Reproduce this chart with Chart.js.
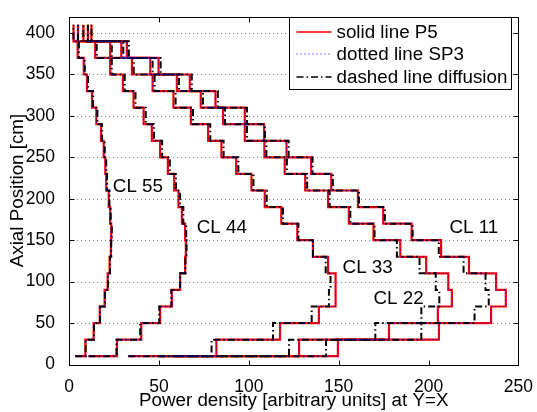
<!DOCTYPE html>
<html>
<head>
<meta charset="utf-8">
<script src="https://cdn.jsdelivr.net/npm/chart.js@4.4.0/dist/chart.umd.min.js"></script>
<style>
  html, body { margin: 0; padding: 0; background: #fff; }
  canvas { display: block; }
</style>
</head>
<body>
<canvas id="power-chart" width="537" height="412"></canvas>
<script>
// axial node heights [cm]; each value below is the power on the layer that ends at that node
var axialNodes = [10, 30, 50, 70, 90, 110, 130, 150, 170, 190, 210, 230, 250, 270, 290, 310, 330, 350, 370, 390, 410];

var xTickValues = [0, 50, 100, 150, 200, 250];
var yTickValues = [0, 50, 100, 150, 200, 250, 300, 350, 400];

var curveNames = ['CL 11', 'CL 22', 'CL 33', 'CL 44', 'CL 55'];
var methodNames = ['solid line P5', 'dotted line SP3', 'dashed line diffusion'];

// P5
var p5CL11 = [60, 149.6, 205.8, 234.8, 243, 237.6, 222.5, 207, 190.6, 174.8, 160.7, 145.9, 134.7, 121, 108.5, 97.8, 81.5, 67.2, 49.8, 32.2, 12.5];
var p5CL22 = [50, 128, 178, 205.2, 213, 211, 198.7, 184.3, 169.4, 155.7, 144.1, 131.4, 120, 108.7, 97.8, 85.7, 73.3, 60, 45.2, 29.1, 10.5];
var p5CL33 = [33, 82, 117.4, 139, 148.3, 148.3, 144.1, 135.7, 127, 118.1, 108.9, 101.5, 93, 84.8, 77.4, 67.8, 58.1, 46.5, 35, 22.9, 8];
var p5CL44 = [10.9, 26.7, 40.2, 50.7, 57.2, 61.8, 64.6, 65, 64.6, 62.8, 60.9, 58.5, 55, 50.7, 46.1, 41.5, 35.9, 30, 22.9, 14.6, 5];
var p5CL55 = [3.5, 9.1, 13.7, 17.1, 19.8, 21.5, 22.6, 23.3, 23.5, 22.9, 22.1, 20.7, 20.2, 19.3, 17.8, 15.2, 12.8, 10, 8.2, 4.8, 2.5];

// SP3
var sp3CL11 = [60, 149.6, 205.8, 234.8, 243, 237.6, 222.5, 207, 190.6, 174.8, 160.7, 145.9, 134.7, 121, 108.5, 97.8, 81.5, 67.2, 49.8, 32.2, 12.5];
var sp3CL22 = [50, 128, 178, 205.2, 213, 211, 198.7, 184.3, 169.4, 155.7, 144.1, 131.4, 120, 108.7, 97.8, 85.7, 73.3, 60, 45.2, 29.1, 10.5];
var sp3CL33 = [33, 82, 117.4, 139, 148.3, 148.3, 144.1, 135.7, 127, 118.1, 108.9, 101.5, 93, 84.8, 77.4, 67.8, 58.1, 46.5, 35, 22.9, 8];
var sp3CL44 = [10.9, 26.7, 40.2, 50.7, 57.2, 61.8, 64.6, 65, 64.6, 62.8, 60.9, 58.5, 55, 50.7, 46.1, 41.5, 35.9, 30, 22.9, 14.6, 5];
var sp3CL55 = [3.5, 9.1, 13.7, 17.1, 19.8, 21.5, 22.6, 23.3, 23.5, 22.9, 22.1, 20.7, 20.2, 19.3, 17.8, 15.2, 12.8, 10, 8.2, 4.8, 2.5];

// diffusion
var difCL11 = [60, 143, 196, 225.6, 233.5, 231.7, 219.5, 205.7, 191.2, 175.7, 161.3, 146.8, 135.5, 122.2, 109, 99, 82.8, 68.3, 51, 33.3, 12.5];
var difCL22 = [50, 122.4, 170.4, 196, 206, 204, 195, 182.4, 170, 156.5, 145, 132.5, 121.2, 109.8, 99, 86.8, 74.5, 61.2, 46.5, 30.2, 10.5];
var difCL33 = [33, 79.3, 113.5, 135, 144.6, 145.5, 142.8, 135.7, 127.6, 119, 110, 102.6, 94.2, 86, 78.6, 69, 59.3, 47.6, 36, 23.8, 8];
var difCL44 = [10.9, 26.4, 39.6, 50.2, 56.9, 61.8, 64.8, 65.4, 65.2, 63.6, 61.8, 59.5, 56.1, 51.8, 47.3, 42.7, 37, 31, 23.8, 15.4, 5];
var difCL55 = [3.5, 9.3, 13.9, 17.3, 20, 21.7, 22.8, 23.5, 23.8, 23.2, 22.5, 21.2, 20.7, 19.9, 18.4, 15.8, 13.4, 10.6, 8.8, 5.5, 2.5];

var FONT = '"Liberation Sans", Arial, Helvetica, sans-serif';

var methods = [
    { name: methodNames[0], curves: [p5CL11, p5CL22, p5CL33, p5CL44, p5CL55], color: '#ff0000', width: 2.2, dash: [], order: 3, legendWidth: 1.5 },
    { name: methodNames[1], curves: [sp3CL11, sp3CL22, sp3CL33, sp3CL44, sp3CL55], color: '#0000ff', width: 1, dash: [1, 3], order: 1, legendWidth: 1 },
    { name: methodNames[2], curves: [difCL11, difCL22, difCL33, difCL44, difCL55], color: '#000000', width: 2, dash: [7, 3, 1.5, 3], order: 2, legendWidth: 1.5 }
];

var datasets = [];
methods.forEach(function(m) {
    m.curves.forEach(function(values, c) {
        datasets.push({
            label: m.name + ' ' + curveNames[c],
            data: axialNodes.map(function(h, i) { return { x: values[i], y: h }; }),
            borderColor: m.color,
            borderWidth: m.width,
            borderDash: m.dash,
            stepped: 'before',
            pointRadius: 0,
            fill: false,
            order: m.order
        });
    });
});

// where the curve names sit, in data units (left edge, middle of text)
var curveLabelAnchors = {
    'CL 11': [211.7, 165],
    'CL 22': [169.4, 79],
    'CL 33': [152.2, 117],
    'CL 44': [71.1, 165],
    'CL 55': [24.4, 215]
};

var axesBox = {
    id: 'axesBox',
    beforeDatasetsDraw: function(chart) {
        // dotted horizontal grid
        var ctx = chart.ctx, a = chart.chartArea, ys = chart.scales.y;
        ctx.save();
        ctx.strokeStyle = '#808080';
        ctx.lineWidth = 1;
        ctx.setLineDash([1, 3]);
        yTickValues.forEach(function(v) {
            if (v === 0) return;
            var py = Math.round(ys.getPixelForValue(v)) + 0.5;
            ctx.beginPath();
            ctx.moveTo(a.left, py);
            ctx.lineTo(a.right, py);
            ctx.stroke();
        });
        ctx.restore();
    },
    afterDraw: function(chart) {
        var ctx = chart.ctx, a = chart.chartArea;
        var xs = chart.scales.x, ys = chart.scales.y;
        ctx.save();

        // box and inward ticks on all four sides
        ctx.strokeStyle = '#000';
        ctx.lineWidth = 1;
        ctx.setLineDash([]);
        var L = Math.round(a.left) + 0.5, R = Math.round(a.right) + 0.5;
        var T = Math.round(a.top) + 0.5, B = Math.round(a.bottom) + 0.5;
        ctx.strokeRect(L, T, R - L, B - T);
        var tl = 5;
        ctx.beginPath();
        xTickValues.forEach(function(v) {
            var px = Math.round(xs.getPixelForValue(v)) + 0.5;
            ctx.moveTo(px, B); ctx.lineTo(px, B - tl);
            ctx.moveTo(px, T); ctx.lineTo(px, T + tl);
        });
        yTickValues.forEach(function(v) {
            var py = Math.round(ys.getPixelForValue(v)) + 0.5;
            ctx.moveTo(L, py); ctx.lineTo(L + tl, py);
            ctx.moveTo(R, py); ctx.lineTo(R - tl, py);
        });
        ctx.stroke();

        // curve names
        ctx.fillStyle = '#000';
        ctx.font = '18.8px ' + FONT;
        ctx.textAlign = 'left';
        ctx.textBaseline = 'middle';
        curveNames.forEach(function(n) {
            var p = curveLabelAnchors[n];
            ctx.fillText(n, xs.getPixelForValue(p[0]), ys.getPixelForValue(p[1]));
        });

        // legend
        var box = { left: 289.5, top: 17.5, right: 511.5, bottom: 89.5 };
        ctx.fillStyle = '#fff';
        ctx.fillRect(box.left, box.top, box.right - box.left, box.bottom - box.top);
        ctx.strokeStyle = '#000';
        ctx.lineWidth = 1;
        ctx.strokeRect(box.left, box.top, box.right - box.left, box.bottom - box.top);
        methods.forEach(function(m, i) {
            var ly = Math.round(box.top + 14 + i * 22.5);
            ctx.strokeStyle = m.color;
            ctx.lineWidth = m.legendWidth;
            ctx.setLineDash(m.dash);
            ctx.beginPath();
            ctx.moveTo(box.left + 7, ly);
            ctx.lineTo(box.left + 42, ly);
            ctx.stroke();
            ctx.setLineDash([]);
            ctx.fillStyle = '#000';
            ctx.fillText(m.name, box.left + 47, ly + 1);
        });
        ctx.restore();
    }
};

new Chart(document.getElementById('power-chart'), {
    type: 'line',
    data: { datasets: datasets },
    options: {
        responsive: false,
        animation: false,
        events: [],
        devicePixelRatio: 1,
        layout: { padding: { top: 9, right: 18, bottom: 0, left: 0 } },
        plugins: {
            legend: { display: false },
            tooltip: { enabled: false }
        },
        scales: {
            x: {
                type: 'linear',
                min: 0,
                max: 250,
                afterBuildTicks: function(s) { s.ticks = xTickValues.map(function(v) { return { value: v }; }); },
                afterFit: function(s) { s.height = 47.5; },
                grid: { display: false },
                border: { display: false },
                ticks: { color: '#000', font: { family: FONT, size: 17.5 }, padding: 4, maxRotation: 0, autoSkip: false },
                title: {
                    display: true,
                    text: 'Power density [arbitrary units] at Y=X',
                    color: '#000',
                    font: { family: FONT, size: 18.8 },
                    padding: { top: 0, bottom: 0 }
                }
            },
            y: {
                type: 'linear',
                min: 0,
                max: 420,
                afterBuildTicks: function(s) { s.ticks = yTickValues.map(function(v) { return { value: v }; }); },
                afterFit: function(s) { s.width = 69; },
                grid: { display: false },
                border: { display: false },
                ticks: { color: '#000', font: { family: FONT, size: 17.5 }, padding: 6, autoSkip: false },
                title: {
                    display: true,
                    text: 'Axial Position [cm]',
                    color: '#000',
                    font: { family: FONT, size: 18.8 },
                    padding: { top: 7, bottom: 0 }
                }
            }
        }
    },
    plugins: [axesBox]
});
</script>
</body>
</html>
